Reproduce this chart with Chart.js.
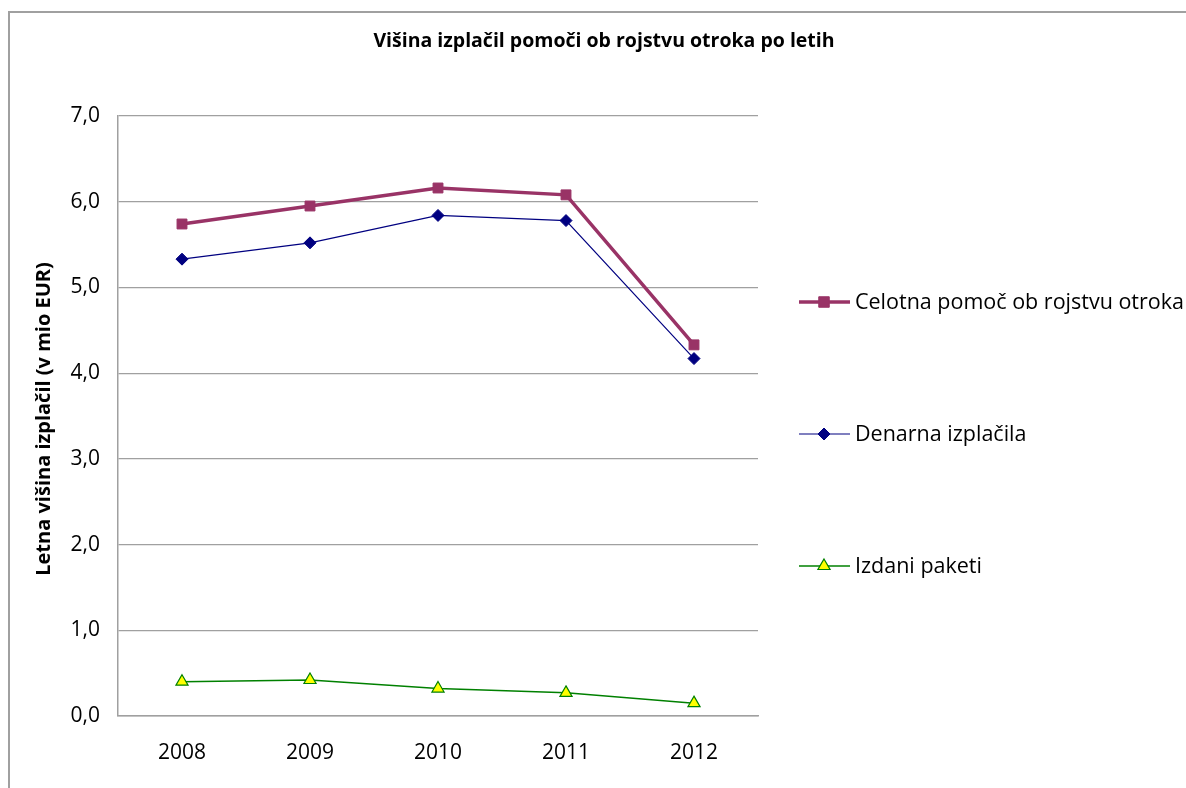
<!DOCTYPE html>
<html>
<head>
<meta charset="utf-8">
<script src="https://cdn.jsdelivr.net/npm/chart.js@4.4.1/dist/chart.umd.min.js"></script>
<style>
  html,body{margin:0;padding:0;background:#fff;}
  #wrap{position:relative;width:1186px;height:788px;overflow:hidden;}
  #frame{position:absolute;left:8px;top:11px;width:1200px;height:800px;border-left:2px solid #a0a0a0;border-top:2px solid #a0a0a0;box-sizing:border-box;pointer-events:none;}
  canvas{position:absolute;left:0;top:0;}
</style>
</head>
<body>
<div id="wrap">
<canvas id="c" width="1186" height="788"></canvas>
<div id="frame"></div>
</div>
<script>
const chartTitle = "Višina izplačil pomoči ob rojstvu otroka po letih";
const yAxisTitle = "Letna višina izplačil (v mio EUR)";
const years = ["2008", "2009", "2010", "2011", "2012"];
const seriesNames = ["Celotna pomoč ob rojstvu otroka", "Denarna izplačila", "Izdani paketi"];
const celotna = [5.74, 5.95, 6.16, 6.08, 4.33];
const denarna = [5.33, 5.52, 5.84, 5.78, 4.17];
const paketi = [0.40, 0.42, 0.32, 0.27, 0.15];
const yMin = 0, yMax = 7, yStep = 1;

const FONT = "'Open Sans', sans-serif";

const overlay = {
  id: 'overlay',
  afterDraw(chart) {
    const ctx = chart.ctx;
    ctx.save();
    // title
    ctx.fillStyle = '#000';
    ctx.font = "bold 19.5px " + FONT;
    ctx.textAlign = 'center';
    ctx.textBaseline = 'middle';
    ctx.fillText(chartTitle, 604, 41);
    // y axis title
    ctx.save();
    ctx.translate(44, 419);
    ctx.rotate(-Math.PI / 2);
    ctx.font = "bold 20px " + FONT;
    ctx.fillText(yAxisTitle, 0, 0);
    ctx.restore();
    // legend
    const ys = [302, 434, 566];
    chart.data.datasets.forEach((ds, i) => {
      const y = ys[i];
      ctx.strokeStyle = ds.borderColor;
      ctx.lineWidth = ds.borderWidth;
      ctx.beginPath();
      ctx.moveTo(799, y);
      ctx.lineTo(850, y);
      ctx.stroke();
      ctx.fillStyle = ds.pointBackgroundColor;
      ctx.strokeStyle = ds.pointBorderColor;
      ctx.lineWidth = ds.pointBorderWidth;
      const x = 824;
      const r = ds.pointRadius;
      ctx.beginPath();
      if (ds.pointStyle === 'rect') {
        ctx.rect(x - r * 0.75, y - r * 0.75, r * 1.5, r * 1.5);
      } else if (ds.pointStyle === 'rectRot') {
        ctx.moveTo(x, y - r); ctx.lineTo(x + r, y); ctx.lineTo(x, y + r); ctx.lineTo(x - r, y); ctx.closePath();
      } else {
        ctx.moveTo(x, y - r); ctx.lineTo(x + r * 0.87, y + r * 0.5); ctx.lineTo(x - r * 0.87, y + r * 0.5); ctx.closePath();
      }
      ctx.fill();
      ctx.stroke();
      ctx.fillStyle = '#000';
      ctx.font = "21.5px " + FONT;
      ctx.textAlign = 'left';
      ctx.textBaseline = 'middle';
      ctx.fillText(ds.label, 855, y + 1);
    });
    ctx.restore();
  }
};

new Chart(document.getElementById('c'), {
  type: 'line',
  data: {
    labels: years,
    datasets: [
      {
        label: seriesNames[0], data: celotna,
        borderColor: '#993366', borderWidth: 3.5,
        pointStyle: 'rect', pointRadius: 7, pointBackgroundColor: '#993366', pointBorderColor: '#993366', pointBorderWidth: 1,
        tension: 0
      },
      {
        label: seriesNames[1], data: denarna,
        borderColor: '#000080', borderWidth: 1.2,
        pointStyle: 'rectRot', pointRadius: 6, pointBackgroundColor: '#000080', pointBorderColor: '#000080', pointBorderWidth: 1,
        tension: 0
      },
      {
        label: seriesNames[2], data: paketi,
        borderColor: '#008000', borderWidth: 1.5,
        pointStyle: 'triangle', pointRadius: 7, pointBackgroundColor: '#ffff00', pointBorderColor: '#008000', pointBorderWidth: 1.2,
        tension: 0
      }
    ]
  },
  options: {
    responsive: false,
    animation: false,
    events: [],
    layout: { padding: { left: 0, right: 428, top: 116, bottom: 0 } },
    plugins: { legend: { display: false }, title: { display: false }, tooltip: { enabled: false } },
    scales: {
      x: {
        offset: true,
        grid: { display: false, drawTicks: false },
        border: { display: true, color: '#a0a0a0', width: 1.5 },
        ticks: { color: '#000', font: { family: FONT, size: 21 }, padding: 24 },
        afterFit(s) { s.height = 72; }
      },
      y: {
        min: yMin, max: yMax,
        grid: { color: '#a0a0a0', lineWidth: 1.2, drawTicks: false },
        border: { display: true, color: '#a0a0a0', width: 1.5 },
        ticks: {
          stepSize: yStep, color: '#000', font: { family: FONT, size: 21 }, padding: 18,
          callback: v => v.toFixed(1).replace('.', ',')
        },
        afterFit(s) { s.width = 118; }
      }
    }
  },
  plugins: [overlay]
});
</script>
</body>
</html>
